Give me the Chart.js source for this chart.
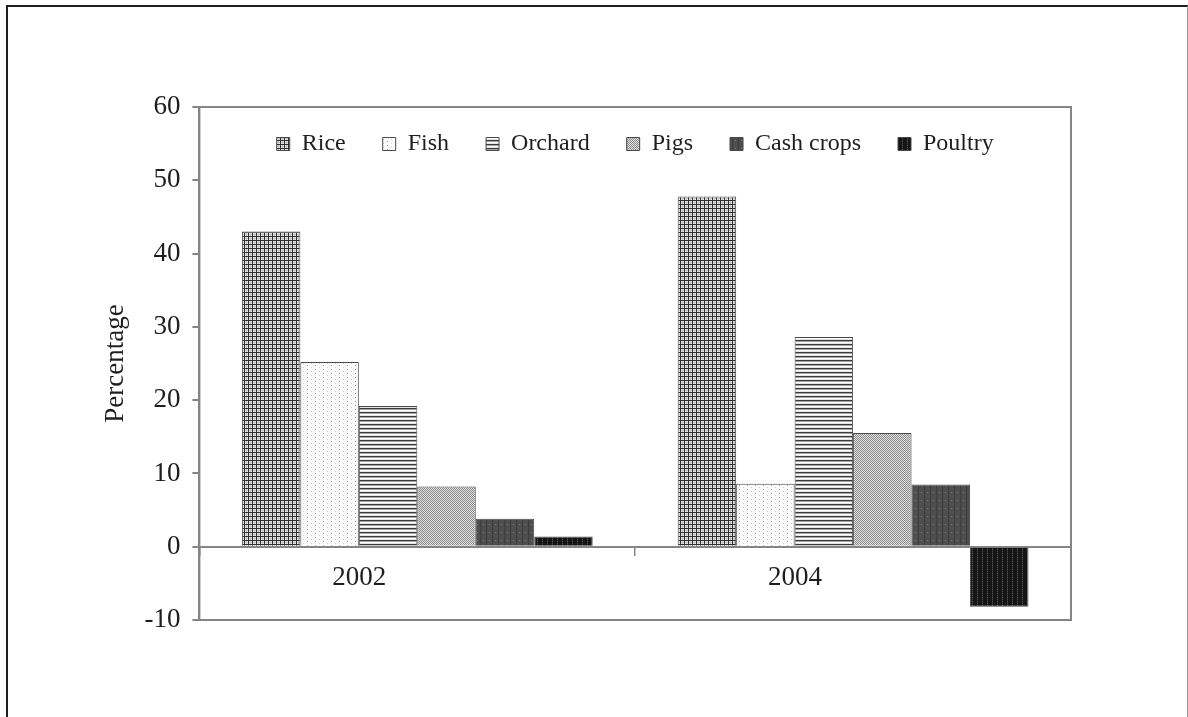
<!DOCTYPE html>
<html>
<head>
<meta charset="utf-8">
<script src="https://cdn.jsdelivr.net/npm/chart.js@4/dist/chart.umd.min.js"></script>
<style>
  html, body { margin: 0; padding: 0; background: #fff; overflow: hidden; }
  #wrap { position: relative; width: 1188px; height: 717px; }
  #chart { position: absolute; left: 0; top: 0; }
  #page-frame {
    position: absolute; left: 6px; top: 5px; width: 1179px; height: 760px;
    border-left: 2px solid #1e1e1e; border-top: 2px solid #1e1e1e; border-right: 1px solid #9a9a9a;
    pointer-events: none;
  }
</style>
</head>
<body>
<div id="wrap">
  <canvas id="chart" width="1188" height="717"></canvas>
  <div id="page-frame"></div>
</div>
<script>
// Share of household income by activity (%)
const categories = ['2002', '2004'];
const seriesNames = ['Rice', 'Fish', 'Orchard', 'Pigs', 'Cash crops', 'Poultry'];
const rice      = [43.0, 47.8];
const fish      = [25.2, 8.6];
const orchard   = [19.2, 28.6];
const pigs      = [8.2, 15.5];
const cashCrops = [3.8, 8.5];
const poultry   = [1.4, -8.2];
const yTickValues = [-10, 0, 10, 20, 30, 40, 50, 60];

const canvas = document.getElementById('chart');
const ctx = canvas.getContext('2d');

// Small repeating tiles used as monochrome hatch fills
function makePattern(w, h, paint) {
  const c = document.createElement('canvas');
  c.width = w; c.height = h;
  const g = c.getContext('2d');
  paint(g);
  return ctx.createPattern(c, 'repeat');
}
function px(g, x, y, col) { g.fillStyle = col; g.fillRect(x, y, 1, 1); }

const riceFill = makePattern(4, 4, g => {
  g.fillStyle = '#f2f2f2'; g.fillRect(0, 0, 4, 4);
  g.fillStyle = '#c4c4c4'; g.fillRect(0, 2, 4, 1); g.fillRect(2, 0, 1, 4);
  g.fillStyle = '#2e2e2e'; g.fillRect(0, 0, 4, 1); g.fillRect(0, 0, 1, 4);
});
const fishFill = makePattern(8, 4, g => {
  g.fillStyle = '#fbfbfb'; g.fillRect(0, 0, 8, 4);
  px(g, 3, 1, '#9a9a9a'); px(g, 7, 3, '#cfcfcf');
});
const orchardFill = makePattern(4, 4, g => {
  g.fillStyle = '#ffffff'; g.fillRect(0, 0, 4, 4);
  g.fillStyle = '#3a3a3a'; g.fillRect(0, 0, 4, 1);
  g.fillStyle = '#a4a4a4'; g.fillRect(0, 1, 4, 1);
  g.fillStyle = '#e4e4e4'; g.fillRect(0, 3, 4, 1);
});
const pigsFill = makePattern(2, 2, g => {
  g.fillStyle = '#e0e0e0'; g.fillRect(0, 0, 2, 2);
  px(g, 0, 0, '#8a8a8a'); px(g, 1, 1, '#8a8a8a');
});
const cashFill = makePattern(6, 8, g => {
  g.fillStyle = '#4e4e4e'; g.fillRect(0, 0, 6, 8);
  g.fillStyle = '#3c3c3c'; g.fillRect(0, 0, 1, 8);
  px(g, 3, 4, '#7a7a7a');
});
const poultryFill = makePattern(5, 4, g => {
  g.fillStyle = '#151515'; g.fillRect(0, 0, 5, 4);
  g.fillStyle = '#2c2c2c'; g.fillRect(2, 0, 1, 4);
  px(g, 2, 1, '#5a5a5a'); px(g, 2, 3, '#4a4a4a');
});

const seriesValues = [rice, fish, orchard, pigs, cashCrops, poultry];
const seriesFills = [riceFill, fishFill, orchardFill, pigsFill, cashFill, poultryFill];

const axisGray = '#858585';
const textColor = '#1e1e1e';
const serif = "'Liberation Serif', 'DejaVu Serif', serif";

// Draws the plot frame and places the legend inside the plot area
const framePlugin = {
  id: 'plotFrame',
  afterLayout(chart) {
    const lg = chart.legend;
    const area = chart.chartArea;
    if (!lg) return;
    const pad = lg.options.labels.padding;
    const h = lg.height;
    lg.left = area.left; lg.right = area.right; lg.width = area.right - area.left;
    lg.top = 144 - pad - 12; lg.bottom = lg.top + h;
  },
  beforeDatasetsDraw(chart) {
    const a = chart.chartArea;
    const c = chart.ctx;
    c.save();
    c.strokeStyle = axisGray;
    c.lineWidth = 2;
    c.strokeRect(a.left, a.top, a.right - a.left, a.bottom - a.top);
    c.restore();
  }
};

new Chart(ctx, {
  type: 'bar',
  data: {
    labels: categories,
    datasets: seriesNames.map((name, i) => ({
      label: name,
      data: seriesValues[i],
      backgroundColor: seriesFills[i],
      borderColor: '#4a4a4a',
      borderWidth: 1,
      categoryPercentage: 0.805,
      barPercentage: 1.0
    }))
  },
  options: {
    responsive: false,
    animation: false,
    events: [],
    layout: { padding: { left: 100, right: 117, top: 36, bottom: 97 } },
    plugins: {
      legend: {
        display: true,
        position: 'top',
        labels: {
          boxWidth: 13, boxHeight: 13, padding: 37,
          color: textColor,
          font: { family: serif, size: 24 }
        }
      },
      tooltip: { enabled: false },
      title: { display: false }
    },
    scales: {
      x: {
        position: { y: 0 },
        offset: true,
        border: { display: true, color: axisGray, width: 2 },
        grid: { display: true, drawOnChartArea: false, drawTicks: true, tickLength: 8, color: axisGray, lineWidth: 1.5 },
        ticks: { color: textColor, font: { family: serif, size: 27 }, padding: 7, labelOffset: -58, maxRotation: 0 }
      },
      y: {
        min: yTickValues[0],
        max: yTickValues[yTickValues.length - 1],
        afterBuildTicks(scale) { scale.ticks = yTickValues.map(v => ({ value: v })); },
        border: { display: true, color: axisGray, width: 2 },
        grid: { display: true, drawOnChartArea: false, drawTicks: true, tickLength: 7, color: axisGray, lineWidth: 2 },
        ticks: { color: textColor, font: { family: serif, size: 27 }, padding: 12 },
        title: {
          display: true, text: 'Percentage', color: textColor,
          font: { family: serif, size: 27 }, padding: { top: 0, bottom: 0 }
        }
      }
    }
  },
  plugins: [framePlugin]
});
</script>
</body>
</html>
